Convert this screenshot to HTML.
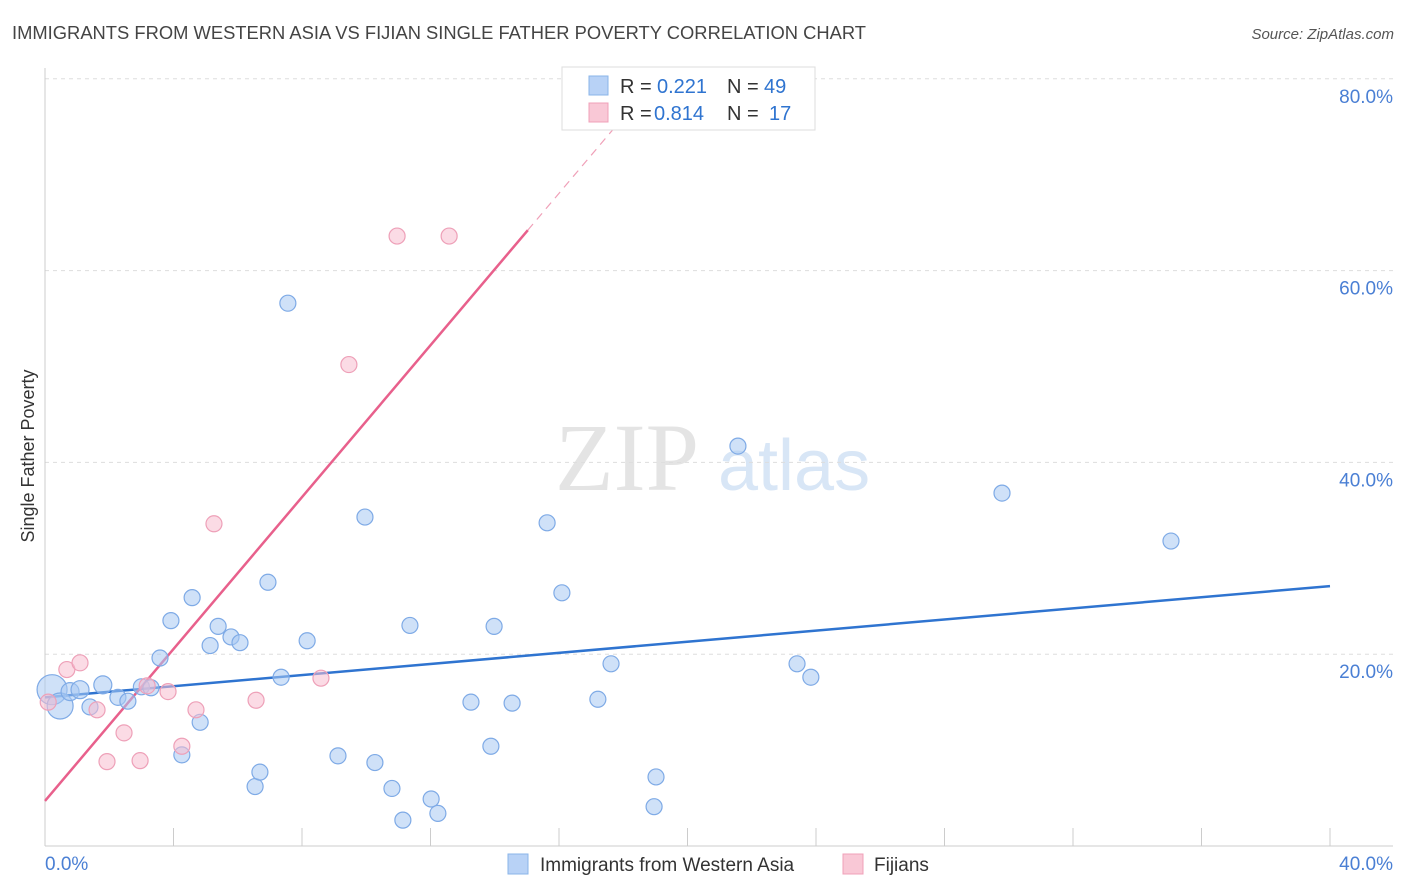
<!DOCTYPE html>
<html><head><meta charset="utf-8"><style>
body{margin:0;background:#fff;font-family:"Liberation Sans",sans-serif}
svg{display:block}
</style></head><body>
<svg id="chart" width="1406" height="892" xmlns="http://www.w3.org/2000/svg">
<text x="12" y="39" font-size="18" fill="#444" textLength="854" lengthAdjust="spacingAndGlyphs">IMMIGRANTS FROM WESTERN ASIA VS FIJIAN SINGLE FATHER POVERTY CORRELATION CHART</text>
<text x="1394" y="39" font-size="15" fill="#555" text-anchor="end" font-style="italic">Source: ZipAtlas.com</text>
<text x="555" y="490" font-size="96" fill="#e4e4e4" font-family="Liberation Serif">ZIP</text>
<text x="718" y="490" font-size="72" fill="#d8e6f6">atlas</text>
<g id="grid"></g><g id="axes"></g><g id="lines"></g><g id="pts"></g>
<text transform="translate(34,456) rotate(-90)" font-size="18" fill="#333" text-anchor="middle">Single Father Poverty</text>
<g>
<rect x="562" y="67" width="253" height="63" fill="#fff" stroke="#ddd"/>
<rect x="589" y="76" width="19" height="19" fill="#b8d2f6" stroke="#8ab4e8"/>
<rect x="589" y="103" width="19" height="19" fill="#f9c8d6" stroke="#f0a0b8"/>
<text y="93" font-size="20" fill="#333"><tspan x="620">R =</tspan><tspan x="657" fill="#2f74d0">0.221</tspan><tspan x="727">N =</tspan><tspan x="764" fill="#2f74d0">49</tspan></text>
<text y="120" font-size="20" fill="#333"><tspan x="620">R =</tspan><tspan x="654" fill="#2f74d0">0.814</tspan><tspan x="727">N =</tspan><tspan x="769" fill="#2f74d0">17</tspan></text>
</g>
<g>
<rect x="508" y="854" width="20" height="20" fill="#b8d2f6" stroke="#8ab4e8"/>
<text x="540" y="871" font-size="19" fill="#333">Immigrants from Western Asia</text>
<rect x="843" y="854" width="20" height="20" fill="#f9c8d6" stroke="#f0a0b8"/>
<text x="874" y="871" font-size="19" fill="#333">Fijians</text>
</g>
</svg>
<script>
const blueX=[0.22,0.47,0.78,1.09,1.8,1.4,2.27,2.58,3.0,3.3,3.58,3.92,4.26,4.58,4.83,5.14,5.39,5.79,6.07,6.54,6.69,6.94,7.35,7.56,8.16,9.12,9.96,10.27,10.8,11.14,11.36,12.02,12.23,13.26,13.88,13.98,14.54,15.63,16.09,17.21,17.62,18.96,19.02,21.57,23.41,23.84,29.79,35.05];
const blueY=[16.3,14.6,16.1,16.3,16.8,14.5,15.5,15.1,16.6,16.5,19.6,23.5,9.5,25.9,12.9,20.9,22.9,21.8,21.2,6.2,7.7,27.5,17.6,56.6,21.4,9.4,34.3,8.7,6.0,2.7,23.0,4.9,3.4,15.0,10.4,22.9,14.9,33.7,26.4,15.3,19.0,4.1,7.2,41.7,19.0,17.6,36.8,31.8];
const blueR=[15,13,9,9,9,8,8,8,8,8,8,8,8,8,8,8,8,8,8,8,8,8,8,8,8,8,8,8,8,8,8,8,8,8,8,8,8,8,8,8,8,8,8,8,8,8,8,8];
const pinkX=[0.1,0.68,1.09,1.62,1.93,2.46,2.96,3.18,3.83,4.26,4.7,5.26,6.57,8.59,9.46,10.96,12.58];
const pinkY=[15.0,18.4,19.1,14.2,8.8,11.8,8.9,16.7,16.1,10.4,14.2,33.6,15.2,17.5,50.2,63.6,63.6];
const blueTrend=[15.5,27.1];
const pinkTrend=[4.7,3.96];
const yTicks=[20,40,60,80];
const xTicks=[0,4,8,12,16,20,24,28,32,36,40];
const X=v=>45+v*32.125, Y=v=>846-v*9.59;
const NS="http://www.w3.org/2000/svg";
function mk(t,a,p){const e=document.createElementNS(NS,t);for(const k in a)e.setAttribute(k,a[k]);document.getElementById(p).appendChild(e);return e;}
yTicks.forEach(t=>{
 const g=mk('line',{x1:45,x2:1393,y1:Y(t),y2:Y(t),stroke:'#ddd','stroke-dasharray':'4,4'},'grid');
 
 
 const l=mk('text',{x:1393,y:Y(t)+24,'font-size':19,fill:'#4a7fd4','text-anchor':'end'},'axes');
 
 
 l.textContent=t.toFixed(1)+'%';
});
let a=mk('line',{x1:45,x2:45,y1:68,y2:846,stroke:'#ccc'},'axes');


a=mk('line',{x1:45,x2:1393,y1:846,y2:846,stroke:'#ccc'},'axes');


xTicks.forEach(t=>{const e=mk('line',{x1:X(t),x2:X(t),y1:828,y2:846,stroke:'#ccc'},'axes');
 
 });
[[0,'start'],[40,'end']].forEach(([t,an])=>{const e=mk('text',{x:t==0?45:1393,y:870,'font-size':19,fill:'#4a7fd4','text-anchor':an},'axes');
 
 
 e.textContent=t.toFixed(1)+'%';});
let ln=mk('line',{x1:X(0),y1:Y(blueTrend[0]),x2:X(40),y2:Y(blueTrend[1]),stroke:'#2f74d0','stroke-width':2.5},'lines');


const pe=15.03, pd=17.8;
ln=mk('line',{x1:X(0),y1:Y(pinkTrend[0]),x2:X(pe),y2:Y(pinkTrend[0]+pinkTrend[1]*pe),stroke:'#e8608c','stroke-width':2.5},'lines');


ln=mk('line',{x1:X(pe),y1:Y(pinkTrend[0]+pinkTrend[1]*pe),x2:X(pd),y2:Y(pinkTrend[0]+pinkTrend[1]*pd),stroke:'#f0a0b8','stroke-width':1.2,'stroke-dasharray':'8,6'},'lines');


blueX.forEach((v,i)=>{const c=mk('circle',{cx:X(v),cy:Y(blueY[i]),r:blueR[i],fill:'rgba(168,200,242,0.55)',stroke:'#7eaae6','stroke-width':1.2},'pts');
 
 });
pinkX.forEach((v,i)=>{const c=mk('circle',{cx:X(v),cy:Y(pinkY[i]),r:8,fill:'rgba(248,190,208,0.55)',stroke:'#eea0b8','stroke-width':1.2},'pts');
 
 });
</script>
</body></html>
